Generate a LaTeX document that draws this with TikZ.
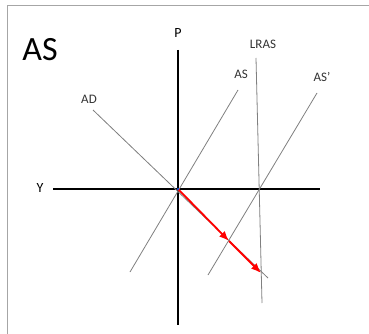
\documentclass[tikz,border=0pt]{standalone}
\usepackage{fontspec}
\setmainfont{Carlito}
\usetikzlibrary{arrows.meta}

\begin{document}
\begin{tikzpicture}[x=1pt,y=-1pt,>={Latex[length=10pt,width=8pt]},
        axis/.style={line width=2.8pt,black},
        curve/.style={line width=0.8pt,gray},
        lbl/.style={font=\fontsize{13}{15}\selectfont,text=black!80,inner sep=1pt},
        redshift/.style={line width=1.8pt,red}]
        \useasboundingbox (0,0) rectangle (369,334);
        \fill[white] (0,0) rectangle (369,334);
        \draw[gray!70,line width=1pt] (7,334) -- (7,6) -- (369,6);
        \node[font=\fontsize{34}{36}\selectfont,inner sep=0pt] (title) at (40,50) {AS};
        % axes
        \coordinate (ptop) at (178,50);
        \coordinate (pbot) at (178,325);
        \coordinate (yleft) at (53,189);
        \coordinate (yright) at (320,189);
        \coordinate (o) at (178,189);
        \draw[axis] (ptop) -- (pbot);
        \draw[axis] (yleft) -- (yright);
        \node[lbl,text=black,font=\fontsize{14}{16}\selectfont] (plabel) at (178,33) {P};
        \node[lbl,text=black,font=\fontsize{14}{16}\selectfont] (ylabel) at (40,188) {Y};
        % curves
        \coordinate (adtop) at (93,110);
        \coordinate (adbot) at (268,278);
        \coordinate (astop) at (238,90);
        \coordinate (asbot) at (130,272);
        \coordinate (as2top) at (317,93);
        \coordinate (as2bot) at (208,275);
        \coordinate (lrtop) at (256,58);
        \coordinate (lrbot) at (262,303);
        \draw[curve] (adtop) -- (adbot);
        \draw[curve] (astop) -- (asbot);
        \draw[curve] (as2top) -- (as2bot);
        \draw[curve] (lrtop) -- (lrbot);
        \node[lbl] (adlabel) at (89,99) {AD};
        \node[lbl] (aslabel) at (241,74) {AS};
        \node[lbl] (as2label) at (322,77) {AS'};
        \node[lbl] (lrlabel) at (263,44) {LRAS};
        % shift
        \coordinate (mid) at (229,241);
        \coordinate (end) at (261,273);
        \draw[redshift,->] (o) -- (mid);
        \draw[redshift,->] (mid) -- (end);
        \fill[blue!60!cyan] (o) circle (1.2pt);
    \end{tikzpicture}
\end{document}
